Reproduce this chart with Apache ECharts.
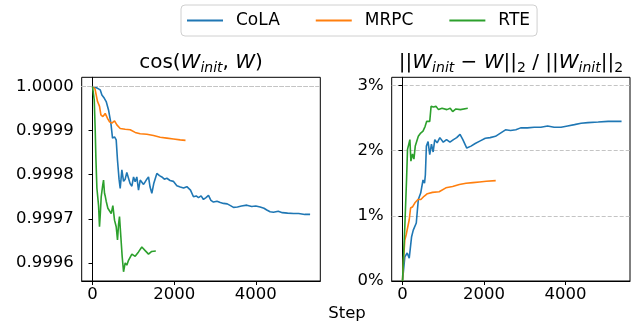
<!DOCTYPE html>
<html>
<head>
<meta charset="utf-8">
<script src="https://cdn.jsdelivr.net/npm/echarts@6/dist/echarts.min.js"></script>
<style>
  html, body { margin: 0; padding: 0; background: #fff; }
  #chart { width: 631px; height: 326px; }
</style>
</head>
<body>
<div id="chart"></div>
<script>
// series names
const names = ["CoLA", "MRPC", "RTE"];
const colors = ["#1f77b4", "#ff7f0e", "#2ca02c"];

// left panel: cos(W_init, W)
const colaCosStep = [0, 106, 188, 230, 286, 335, 392, 450, 490, 539, 580, 612, 650, 678, 719, 760, 800, 840, 882, 920, 964, 1005, 1045, 1085, 1127, 1168, 1208, 1250, 1290, 1330, 1372, 1410, 1453, 1500, 1576, 1640, 1698, 1760, 1821, 1900, 1980, 2066, 2150, 2230, 2311, 2400, 2473, 2540, 2596, 2660, 2718, 2780, 2841, 2900, 2963, 3050, 3130, 3208, 3300, 3380, 3453, 3550, 3650, 3780, 3900, 4000, 4106, 4200, 4269, 4350, 4433, 4550, 4650, 4780, 4922, 5050, 5200, 5330];
const colaCos = [1.0, 0.999997, 0.9999925, 0.999981, 0.999974, 0.999966, 0.999947, 0.999917, 0.999883, 0.999886, 0.999879, 0.999833, 0.99979, 0.999769, 0.999811, 0.999785, 0.99979, 0.999805, 0.999808, 0.99978, 0.999774, 0.999795, 0.999784, 0.999795, 0.999765, 0.999788, 0.999787, 0.999778, 0.999784, 0.99979, 0.999795, 0.999772, 0.999758, 0.99978, 0.999803, 0.999798, 0.999795, 0.99979, 0.999792, 0.999787, 0.999785, 0.999775, 0.999772, 0.99977, 0.999773, 0.999765, 0.99975, 0.999752, 0.999748, 0.999752, 0.999744, 0.999748, 0.999753, 0.999742, 0.999738, 0.99974, 0.999737, 0.999735, 0.999734, 0.99973, 0.999726, 0.999727, 0.999729, 0.999731, 0.999728, 0.999729, 0.999727, 0.999724, 0.99972, 0.999716, 0.999715, 0.999717, 0.999714, 0.999713, 0.999712, 0.999712, 0.99971, 0.99971];
const mrpcCosStep = [0, 60, 123, 172, 205, 254, 311, 368, 417, 474, 539, 596, 678, 800, 923, 1045, 1168, 1331, 1494, 1657, 1821, 1984, 2147, 2278];
const mrpcCos = [1.0, 0.999995, 0.999966, 0.999955, 0.999936, 0.999932, 0.999939, 0.999928, 0.99992, 0.999917, 0.999922, 0.999913, 0.999905, 0.999903, 0.999902, 0.999896, 0.999893, 0.999892, 0.999889, 0.999885, 0.999883, 0.999881, 0.999879, 0.999878];
const rteCosStep = [0, 42, 66, 82, 107, 148, 171, 190, 213, 245, 270, 294, 315, 335, 376, 420, 458, 498, 539, 580, 612, 640, 661, 694, 727, 760, 800, 840, 882, 920, 964, 1045, 1127, 1208, 1290, 1372, 1450, 1551];
const rteCos = [1.0, 0.99997, 0.999902, 0.99984, 0.99977, 0.99973, 0.999682, 0.99971, 0.99975, 0.999773, 0.999788, 0.999758, 0.99975, 0.99974, 0.999724, 0.99972, 0.999712, 0.99973, 0.999697, 0.999682, 0.999652, 0.99969, 0.999705, 0.999702, 0.999614, 0.99958, 0.9996, 0.999595, 0.999606, 0.999608, 0.99962, 0.999615, 0.999625, 0.999636, 0.999628, 0.99962, 0.999626, 0.999627];

// right panel: ||W_init - W|| / ||W_init|| in %
const colaDistStep = [0, 57, 115, 165, 223, 264, 300, 338, 388, 446, 503, 540, 561, 586, 627, 668, 710, 751, 792, 850, 916, 1000, 1080, 1163, 1250, 1329, 1411, 1480, 1576, 1680, 1783, 1907, 2031, 2150, 2280, 2403, 2527, 2650, 2780, 2898, 3060, 3230, 3393, 3558, 3720, 3888, 4050, 4218, 4380, 4548, 4800, 5043, 5373];
const colaDist = [0, 0.37, 0.43, 0.35, 0.68, 0.78, 0.75, 0.89, 1.25, 1.35, 1.55, 1.5, 1.63, 2.07, 2.14, 1.94, 2.1, 1.98, 2.17, 2.12, 2.2, 2.13, 2.17, 2.13, 2.17, 2.2, 2.25, 2.17, 2.04, 2.07, 2.11, 2.15, 2.19, 2.2, 2.22, 2.27, 2.32, 2.31, 2.32, 2.35, 2.35, 2.36, 2.36, 2.38, 2.36, 2.36, 2.38, 2.4, 2.42, 2.43, 2.44, 2.45, 2.45];
const mrpcDistStep = [0, 24, 57, 90, 130, 165, 198, 250, 305, 340, 379, 450, 528, 610, 734, 899, 1064, 1229, 1394, 1559, 1725, 1890, 2055, 2286];
const mrpcDist = [0, 0.32, 0.63, 0.71, 0.7, 0.94, 1.12, 1.14, 1.2, 1.17, 1.25, 1.25, 1.3, 1.34, 1.36, 1.37, 1.43, 1.45, 1.48, 1.5, 1.51, 1.52, 1.53, 1.54];
const rteDistStep = [0, 57, 99, 123, 148, 181, 206, 245, 280, 313, 350, 388, 446, 503, 553, 594, 635, 668, 701, 759, 820, 883, 970, 1089, 1170, 1230, 1310, 1420, 1601];
const rteDist = [0, 0.84, 1.55, 2.02, 2.05, 2.17, 1.84, 1.95, 1.87, 2.07, 2.08, 2.22, 2.27, 2.3, 2.37, 2.45, 2.47, 2.45, 2.68, 2.67, 2.68, 2.63, 2.65, 2.63, 2.65, 2.6, 2.64, 2.63, 2.65];

// tick labels
const stepTicks = [0, 2000, 4000];
const cosTicks = [0.9996, 0.9997, 0.9998, 0.9999, 1.0];
const distTicks = [0, 1, 2, 3];

const FONT = "DejaVu Sans";

function zip(xs, ys) {
  return xs.map((x, i) => [x, ys[i]]);
}

let chart = echarts.init(document.getElementById("chart"), null, { renderer: "canvas" });

function lineSeries(name, idx, data, color) {
  return {
    name: name,
    type: "line",
    xAxisIndex: idx,
    yAxisIndex: idx,
    data: data,
    symbol: "none",
    z: 3,
    lineStyle: { color: color, width: 1.6 },
    itemStyle: { color: color },
  };
}

let xAxisBase = {
  type: "value",
  min: -265,
  max: 5580,
  splitLine: { show: false },
  axisLine: { lineStyle: { color: "#000", width: 1 } },
  axisTick: { customValues: stepTicks, length: 4, lineStyle: { color: "#000" } },
  axisLabel: {
    customValues: stepTicks,
    color: "#000",
    fontSize: 16.5,
    fontFamily: FONT,
    margin: 5,
    formatter: (v) => String(v),
  },
};

let series = [];
// dashed grid lines for the left panel
series.push({
  type: "line",
  xAxisIndex: 0,
  yAxisIndex: 0,
  data: [],
  z: 1,
  silent: true,
  markLine: {
    silent: true,
    symbol: ["none", "none"],
    label: { show: false },
    lineStyle: { color: "#c4c4c4", type: [4, 2], width: 1 },
    data: cosTicks.map((v) => ({ yAxis: v })),
  },
});
series.push(lineSeries(names[0], 0, zip(colaCosStep, colaCos), colors[0]));
series.push(lineSeries(names[1], 0, zip(mrpcCosStep, mrpcCos), colors[1]));
series.push(lineSeries(names[2], 0, zip(rteCosStep, rteCos), colors[2]));
series.push(lineSeries(names[0], 1, zip(colaDistStep, colaDist), colors[0]));
series.push(lineSeries(names[1], 1, zip(mrpcDistStep, mrpcDist), colors[1]));
series.push(lineSeries(names[2], 1, zip(rteDistStep, rteDist), colors[2]));

let titleRich = {
  n: { fontSize: 20, fontFamily: FONT, fontWeight: "normal", color: "#000" },
  i: { fontSize: 20, fontFamily: FONT, fontWeight: "normal", fontStyle: "italic", color: "#000" },
  s: { fontSize: 14, fontFamily: FONT, fontWeight: "normal", fontStyle: "italic", color: "#000", padding: [10, 0, 0, 0] },
  t: { fontSize: 14, fontFamily: FONT, fontWeight: "normal", color: "#000", padding: [10, 0, 0, 0] },
};

let option = {
  animation: false,
  backgroundColor: "#fff",
  title: [
    {
      text: "{n|cos(}{i|W}{s|init}{n|, }{i|W}{n|)}",
      left: 201,
      top: 51,
      padding: 0,
      textAlign: "center",
      textStyle: { fontWeight: "normal", rich: titleRich },
    },
    {
      text: "{n|||}{i|W}{s|init}{n| − }{i|W}{n|||}{t|2}{n| / ||}{i|W}{s|init}{n|||}{t|2}",
      left: 511,
      top: 51,
      padding: 0,
      textAlign: "center",
      textStyle: { fontWeight: "normal", rich: titleRich },
    },
    {
      text: "Step",
      left: 347,
      top: 305,
      padding: 0,
      textAlign: "center",
      textStyle: { fontSize: 16.5, fontFamily: FONT, fontWeight: "normal", color: "#000" },
    },
  ],
  legend: {
    data: names,
    left: 181,
    top: 5,
    padding: [7, 7, 7, 6],
    itemGap: 36,
    itemWidth: 36,
    itemHeight: 2,
    icon: "rect",
    borderColor: "#d0d0d0",
    borderWidth: 1,
    borderRadius: 4,
    textStyle: { fontSize: 17, fontFamily: FONT, color: "#000", padding: [0, 0, 0, 8] },
  },
  grid: [
    { left: 81.7, top: 77.3, width: 238.6, height: 203.7, show: true, borderColor: "#000", borderWidth: 1, backgroundColor: "transparent" },
    { left: 391.7, top: 77.3, width: 238.3, height: 203.7, show: true, borderColor: "#000", borderWidth: 1, backgroundColor: "transparent" },
  ],
  xAxis: [
    Object.assign({}, xAxisBase, { gridIndex: 0 }),
    Object.assign({}, xAxisBase, { gridIndex: 1 }),
  ],
  yAxis: [
    {
      type: "value",
      gridIndex: 0,
      min: 0.999559,
      max: 1.000021,
      splitLine: { show: false },
      axisLine: { show: true, lineStyle: { color: "#000", width: 1 } },
      axisTick: { show: true, customValues: cosTicks, length: 4, lineStyle: { color: "#000" } },
      axisLabel: {
        customValues: cosTicks,
        color: "#000",
        fontSize: 16.5,
        fontFamily: FONT,
        margin: 8,
        formatter: (v) => v.toFixed(4),
      },
    },
    {
      type: "value",
      gridIndex: 1,
      min: 0,
      max: 3.126,
      interval: 1,
      splitLine: { show: true, lineStyle: { color: "#c4c4c4", type: [4, 2], width: 1 } },
      axisLine: { show: true, lineStyle: { color: "#000", width: 1 } },
      axisTick: { show: true, customValues: distTicks, length: 4, lineStyle: { color: "#000" } },
      axisLabel: {
        customValues: distTicks,
        color: "#000",
        fontSize: 16.5,
        fontFamily: FONT,
        margin: 8,
        formatter: (v) => v + "%",
      },
    },
  ],
  series: series,
};

chart.setOption(option);
</script>
</body>
</html>
